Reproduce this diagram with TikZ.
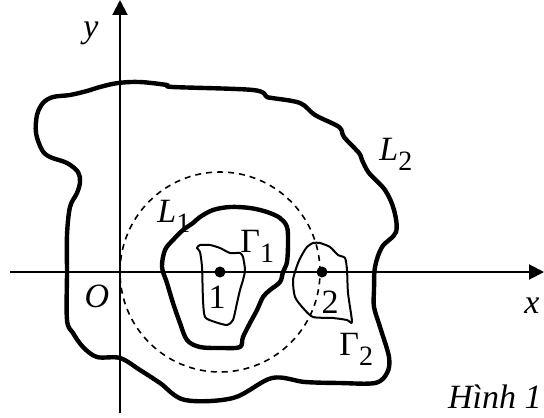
\documentclass[tikz,border=0pt]{standalone}
\usepackage{fontspec}
\setmainfont{Liberation Serif}
\usetikzlibrary{arrows.meta}
\newcommand{\lowsub}[1]{\raisebox{-5pt}{\fontsize{14}{14}\selectfont #1}}
\begin{document}
\begin{tikzpicture}[x=0.5pt,y=-0.5pt,
    font=\fontsize{17}{20}\selectfont,
    every node/.style={inner sep=0pt},
    axis/.style={line width=1pt,-{Triangle[length=7.5pt,width=7.5pt]}},
    bound/.style={line width=2.2pt,line join=round},
    loop/.style={line width=1pt,line join=round},
    dot/.style={circle,fill,minimum size=5.5pt}]
  \useasboundingbox (0,0) rectangle (544,417);
  % axes
  \coordinate (xl) at (10,272);
  \coordinate (xr) at (544,272);
  \coordinate (yb) at (120,413);
  \coordinate (yt) at (120,0);
  \draw[axis] (xl) -- (xr);
  \draw[axis] (yb) -- (yt);
  \node[anchor=base] (ylab) at (91,38) {\textit{y}};
  \node[anchor=base] (xlab) at (532,313) {\textit{x}};
  \node[anchor=base] (O) at (97,307) {\textit{O}};
  % singular points
  \node[dot] (p1) at (220,272) {};
  \node[dot] (p2) at (322,272) {};
  \node[anchor=base] (n1) at (217,308) {1};
  \node[anchor=base] (n2) at (330,313) {2};
  \draw[dashed,line width=0.8pt,dash pattern=on 3pt off 2.5pt] (p1) circle (50pt);
  % outer contour L2
  \draw[bound] plot[smooth cycle,tension=0.55] coordinates {
    (118,83) (140,82) (167,85) (173,87) (253,90) (267,97) (272,98)
    (300,103) (315,115) (339,127) (344,137) (359,153) (362,160)
    (369,173) (385,190) (394,210) (396,232) (382,247) (375,267)
    (374,290) (374,307) (380,327) (389,357) (387,373) (375,383)
    (340,383) (305,382) (272,378) (233,398) (185,400) (160,383)
    (140,370) (120,358) (97,357) (83,347) (73,333) (67,320)
    (67,272) (67,235) (70,207) (77,193) (80,182) (78,172)
    (67,163) (50,157) (42,150) (36,133) (37,115) (43,103)
    (53,97) (70,95) (87,91) (100,87)};
  \node[anchor=base west] (L2) at (379,160) {\textit{L}\lowsub{2}};
  % contour L1
  \draw[bound] plot[smooth cycle,tension=0.55] coordinates {
    (193,223) (200,217) (213,210) (230,207) (250,208) (267,212)
    (280,218) (287,227) (288,243) (287,262) (283,272) (280,282)
    (270,290) (263,297) (257,310) (250,323) (243,337) (240,347)
    (223,348) (200,347) (187,340) (180,323) (173,303) (167,283)
    (162,267) (165,250) (173,240) (183,230)};
  \node[anchor=base west] (L1) at (157,222) {\textit{L}\lowsub{1}};
  % small contours
  \draw[loop] plot[smooth cycle,tension=0.4] coordinates {
    (197,248) (200,245) (210,245) (220,248) (230,253) (240,253)
    (243,257) (245,270) (243,280) (240,290) (237,303) (233,320)
    (227,325) (215,322) (205,317) (203,300) (202,267) (200,252)};
  \node[anchor=base west] (G1) at (240,252) {Γ\lowsub{1}};
  \draw[loop] plot[smooth cycle,tension=0.4] coordinates {
    (307,247) (313,243) (320,243) (330,247) (338,255) (345,258)
    (347,270) (348,293) (352,322) (347,320) (333,318) (313,317)
    (303,308) (295,297) (293,280) (298,263) (303,253)};
  \node[anchor=base west] (G2) at (339,355) {Γ\lowsub{2}};
  \node[anchor=base east] (cap) at (542,408) {\textit{Hình 1}};
\end{tikzpicture}
\end{document}
